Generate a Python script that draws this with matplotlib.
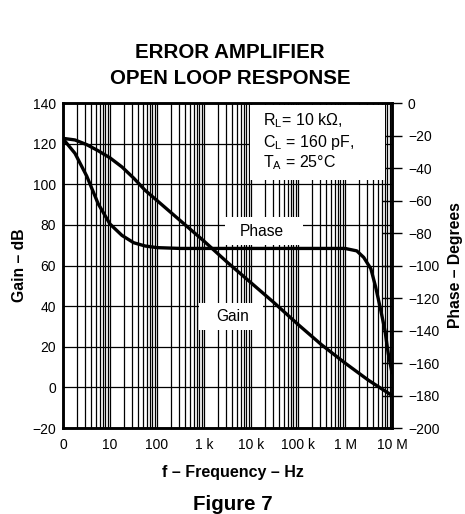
import matplotlib
matplotlib.use("Agg")
import matplotlib.pyplot as plt
from matplotlib.ticker import LogLocator, NullFormatter
from matplotlib.patches import Rectangle

plt.rcParams['font.family'] = ['Liberation Sans', 'DejaVu Sans']
plt.rcParams['mathtext.fontset'] = 'custom'
plt.rcParams['mathtext.rm'] = 'Liberation Sans'

# ---- data ----
gain_freq = [1, 1.8, 3.2, 5.6, 10, 18, 32, 56, 100, 316, 1e3, 3.16e3, 1e4,
             3.16e4, 1e5, 3.16e5, 1e6, 3.16e6, 1e7]
gain_db = [122.6, 121.8, 119.5, 116.5, 113, 108.5, 103, 97, 92, 82, 72, 61.5,
           51.5, 41.5, 31, 21, 12, 3.5, -4]

phase_freq = [1, 1.8, 3.2, 5.6, 10, 18, 32, 56, 100, 316, 1e3, 1e4, 1e5, 1e6,
              1.78e6, 2.5e6, 3.55e6, 4.47e6, 5.62e6, 7.08e6, 8.3e6, 1e7]
phase_deg = [-22, -31, -45, -62, -74.5, -81.5, -86, -88, -89, -89.5, -89.5,
             -89.5, -89.5, -89.5, -91, -95, -102, -113, -126, -140, -154, -166]

x_ticks = [1, 10, 100, 1e3, 1e4, 1e5, 1e6, 1e7]
x_labels = ['0', '10', '100', '1 k', '10 k', '100 k', '1 M', '10 M']
gain_ticks = [-20, 0, 20, 40, 60, 80, 100, 120, 140]
phase_ticks = [0, -20, -40, -60, -80, -100, -120, -140, -160, -180, -200]

W, H = 465, 514
fig = plt.figure(figsize=(W / 100, H / 100), dpi=100)
L, R, T, B = 63, 392, 103, 428
ax = fig.add_axes([L / W, 1 - B / H, (R - L) / W, (B - T) / H])
ax.set_xscale('log')
ax.set_xlim(1, 1e7)
ax.set_ylim(-20, 140)
ax.set_xticks(x_ticks)
ax.set_xticklabels(x_labels)
ax.xaxis.set_minor_locator(LogLocator(base=10, subs=range(2, 10), numticks=20))
ax.xaxis.set_minor_formatter(NullFormatter())
ax.set_yticks(gain_ticks)
ax.set_yticklabels([str(v).replace('-', '\u2212') for v in gain_ticks])
ax.tick_params(axis='both', which='both', length=0, labelsize=10)
ax.tick_params(axis='x', pad=7)
ax.tick_params(axis='y', pad=5)
ax.grid(True, which='major', axis='both', color='black', linewidth=0.9, zorder=0)
ax.grid(True, which='minor', axis='x', color='black', linewidth=0.9, zorder=0)
ax.set_axisbelow(True)
for s in ax.spines.values():
    s.set_linewidth(1.8)

ax.plot(gain_freq, gain_db, color='black', linewidth=2.4, zorder=5,
        solid_capstyle='round')

ax2 = ax.twinx()
ax2.set_ylim(-200, 0)
ax2.set_yticks(phase_ticks)
ax2.set_yticklabels([str(v).replace('-', '\u2212') for v in phase_ticks])
ax2.tick_params(axis='y', direction='inout', length=15, width=1.0, labelsize=10, pad=4)
for s in ax2.spines.values():
    s.set_linewidth(1.8)
ax2.plot(phase_freq, phase_deg, color='black', linewidth=2.4, zorder=5,
         solid_capstyle='round')


def fx(x):
    return (x - L) / (R - L)


def fy(y):
    return (B - y) / (B - T)


for (x0, y0, x1, y1) in [(250, 105, 385, 180), (225, 217, 303, 245), (199, 303, 263, 330)]:
    ax.add_patch(Rectangle((fx(x0), fy(y1)), fx(x1) - fx(x0), fy(y0) - fy(y1),
                           transform=ax.transAxes, facecolor='white',
                           edgecolor='none', zorder=2))

fs = 11.5
ax.text(fx(263), fy(121), 'R$_\\mathregular{L}$= 10 k\u03a9,',
        transform=ax.transAxes, fontsize=fs, va='center', ha='left', zorder=3)
ax.text(fx(263), fy(142), 'C$_\\mathregular{L}$ = 160 pF,', transform=ax.transAxes,
        fontsize=fs, va='center', ha='left', zorder=3)
ax.text(fx(263), fy(163), 'T$_\\mathregular{A}$ = 25\u00b0C',
        transform=ax.transAxes, fontsize=fs, va='center', ha='left', zorder=3)
ax.text(fx(262), fy(231), 'Phase', transform=ax.transAxes, fontsize=11.2,
        va='center', ha='center', zorder=3)
ax.text(fx(233), fy(316), 'Gain', transform=ax.transAxes, fontsize=11.2,
        va='center', ha='center', zorder=3)

ax.set_zorder(ax2.get_zorder() + 1)
ax.patch.set_visible(False)

fig.text(230 / W, 1 - 53 / H, 'ERROR AMPLIFIER', ha='center', va='center',
         fontsize=14.8, fontweight='bold')
fig.text(230 / W, 1 - 78 / H, 'OPEN LOOP RESPONSE', ha='center', va='center',
         fontsize=14.8, fontweight='bold')
fig.text(20 / W, 1 - 265 / H, 'Gain \u2013 dB', rotation=90, ha='center', va='center',
         fontsize=11.3, fontweight='bold')
fig.text(455 / W, 1 - 265 / H, 'Phase \u2013 Degrees', rotation=90, ha='center',
         va='center', fontsize=11.3, fontweight='bold')
fig.text(233 / W, 1 - 472 / H, 'f \u2013 Frequency \u2013 Hz', ha='center', va='center',
         fontsize=11.5, fontweight='bold')
fig.text(233 / W, 1 - 505 / H, 'Figure 7', ha='center', va='center',
         fontsize=14.8, fontweight='bold')

fig.savefig('out.png', dpi=100)
